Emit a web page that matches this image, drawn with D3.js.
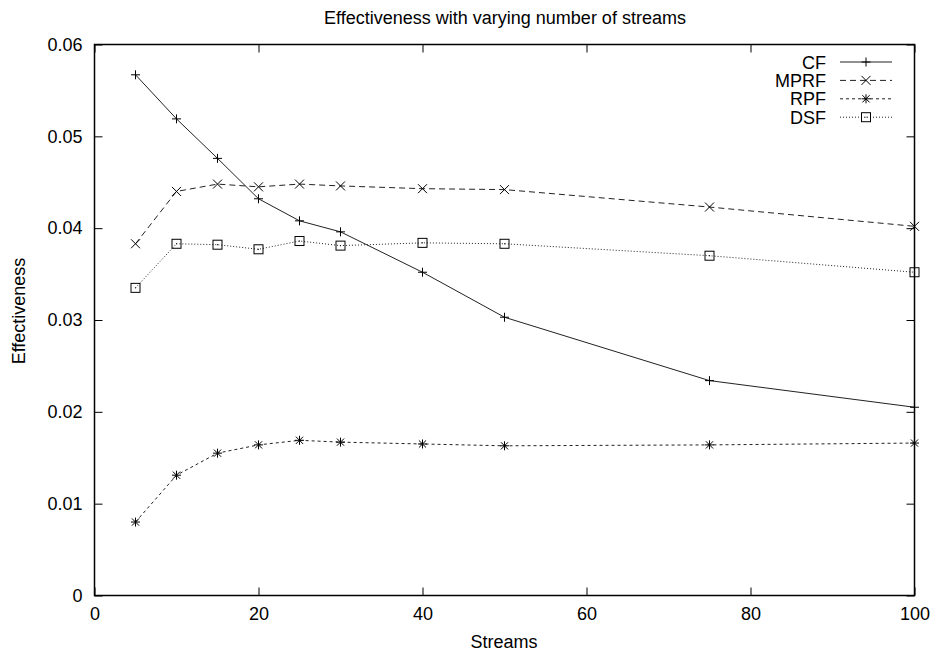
<!DOCTYPE html>
<html>
<head>
<meta charset="utf-8">
<script src="https://cdn.jsdelivr.net/npm/d3@7"></script>
<style>
  html, body { margin: 0; padding: 0; background: #fff; }
  svg { display: block; font-family: "Liberation Sans", Arial, Helvetica, sans-serif; }
</style>
</head>
<body>
<svg id="chart" width="930" height="651"></svg>
<script>
// Number of streams on the x axis
const streams = [5, 10, 15, 20, 25, 30, 40, 50, 75, 100];

// Effectiveness per filter
const cf   = [0.0567, 0.0519, 0.0476, 0.0432, 0.0408, 0.0396, 0.0352, 0.0303, 0.0234, 0.0205];
const mprf = [0.0383, 0.0440, 0.0448, 0.0445, 0.0448, 0.0446, 0.0443, 0.0442, 0.0423, 0.0402];
const rpf  = [0.0080, 0.0131, 0.0155, 0.0164, 0.0169, 0.0167, 0.0165, 0.0163, 0.0164, 0.0166];
const dsf  = [0.0335, 0.0383, 0.0382, 0.0377, 0.0386, 0.0381, 0.0384, 0.0383, 0.0370, 0.0352];

const seriesNames = ["CF", "MPRF", "RPF", "DSF"];
const xTicks = [0, 20, 40, 60, 80, 100];
const yTicks = [0, 0.01, 0.02, 0.03, 0.04, 0.05, 0.06];

const series = [
  { name: seriesNames[0], values: cf,   dash: null,  marker: "plus" },
  { name: seriesNames[1], values: mprf, dash: "6,4", marker: "cross" },
  { name: seriesNames[2], values: rpf,  dash: "3,3", marker: "star" },
  { name: seriesNames[3], values: dsf,  dash: "1,2", marker: "square" }
];

const svg = d3.select("#chart");
const plotL = 94.5, plotR = 914.5, plotT = 44.5, plotB = 595.5;
const fontSize = 18;

const x = d3.scaleLinear().domain([0, 100]).range([plotL, plotR]);
const y = d3.scaleLinear().domain([0, 0.06]).range([plotB, plotT]);

// Title and axis labels
svg.append("text").attr("x", 505).attr("y", 24).attr("text-anchor", "middle")
  .attr("font-size", fontSize).attr("fill", "#000").text("Effectiveness with varying number of streams");
svg.append("text").attr("x", 504).attr("y", 648).attr("text-anchor", "middle")
  .attr("font-size", fontSize).attr("fill", "#000").text("Streams");
svg.append("text").attr("transform", "translate(25,311) rotate(-90)").attr("text-anchor", "middle")
  .attr("font-size", fontSize).attr("fill", "#000").text("Effectiveness");

// Axes with inward ticks, mirrored on the top and right edges
const tickLen = 8;
const xAxisB = d3.axisBottom(x).tickValues(xTicks).tickSizeInner(-tickLen).tickSizeOuter(0).tickPadding(12).tickFormat(d3.format("d"));
const xAxisT = d3.axisTop(x).tickValues(xTicks).tickSizeInner(-tickLen).tickSizeOuter(0).tickFormat("");
const yAxisL = d3.axisLeft(y).tickValues(yTicks).tickSizeInner(-tickLen).tickSizeOuter(0).tickPadding(12)
  .tickFormat(d => d === 0 ? "0" : d3.format(".2f")(d));
const yAxisR = d3.axisRight(y).tickValues(yTicks).tickSizeInner(-tickLen).tickSizeOuter(0).tickFormat("");

function styleAxis(g) {
  g.select(".domain").remove();
  g.selectAll(".tick line").attr("stroke", "#000").attr("stroke-width", 1);
  g.selectAll(".tick text").attr("font-size", fontSize).attr("fill", "#000")
    .attr("font-family", '"Liberation Sans", Arial, Helvetica, sans-serif');
}
svg.append("g").attr("transform", `translate(0,${plotB})`).call(xAxisB).call(styleAxis);
svg.append("g").attr("transform", `translate(0,${plotT})`).call(xAxisT).call(styleAxis);
svg.append("g").attr("transform", `translate(${plotL},0)`).call(yAxisL).call(styleAxis);
svg.append("g").attr("transform", `translate(${plotR},0)`).call(yAxisR).call(styleAxis);

// Markers
function drawMarker(g, type, cx, cy) {
  const s = 4.5;
  const st = { stroke: "#000", "stroke-width": 1, fill: "none" };
  const line = (x1, y1, x2, y2) => {
    const l = g.append("line").attr("x1", x1).attr("y1", y1).attr("x2", x2).attr("y2", y2);
    Object.entries(st).forEach(([k, v]) => l.attr(k, v));
  };
  if (type === "plus" || type === "star") {
    line(cx - s, cy, cx + s, cy);
    line(cx, cy - s, cx, cy + s);
  }
  if (type === "cross" || type === "star") {
    const d = type === "star" ? s * 0.8 : s;
    line(cx - d, cy - d, cx + d, cy + d);
    line(cx - d, cy + d, cx + d, cy - d);
  }
  if (type === "square") {
    const r = g.append("rect").attr("x", cx - 4.5).attr("y", cy - 4.5).attr("width", 9).attr("height", 9);
    Object.entries(st).forEach(([k, v]) => r.attr(k, v));
    g.append("rect").attr("x", cx - 0.5).attr("y", cy - 0.5).attr("width", 1).attr("height", 1).attr("fill", "#000");
  }
}

const lineGen = d3.line().x(d => x(d[0])).y(d => y(d[1]));

series.forEach(s => {
  const pts = streams.map((v, i) => [v, s.values[i]]);
  svg.append("path").datum(pts).attr("d", lineGen)
    .attr("fill", "none").attr("stroke", "#222").attr("stroke-width", 1)
    .attr("stroke-dasharray", s.dash);
  const mg = svg.append("g");
  pts.forEach(p => drawMarker(mg, s.marker, x(p[0]), y(p[1])));
});

// Legend
series.forEach((s, i) => {
  const ly = 62 + i * 18.4;
  svg.append("text").attr("x", 826).attr("y", ly + 6.5).attr("text-anchor", "end")
    .attr("font-size", fontSize).attr("fill", "#000").text(s.name);
  svg.append("line").attr("x1", 840).attr("x2", 892).attr("y1", ly).attr("y2", ly)
    .attr("stroke", "#222").attr("stroke-width", 1).attr("stroke-dasharray", s.dash);
  const mg = svg.append("g");
  drawMarker(mg, s.marker, 866, ly);
});

// Plot frame
svg.append("rect").attr("x", plotL).attr("y", plotT).attr("width", plotR - plotL).attr("height", plotB - plotT)
  .attr("fill", "none").attr("stroke", "#000").attr("stroke-width", 1.5);
</script>
</body>
</html>
